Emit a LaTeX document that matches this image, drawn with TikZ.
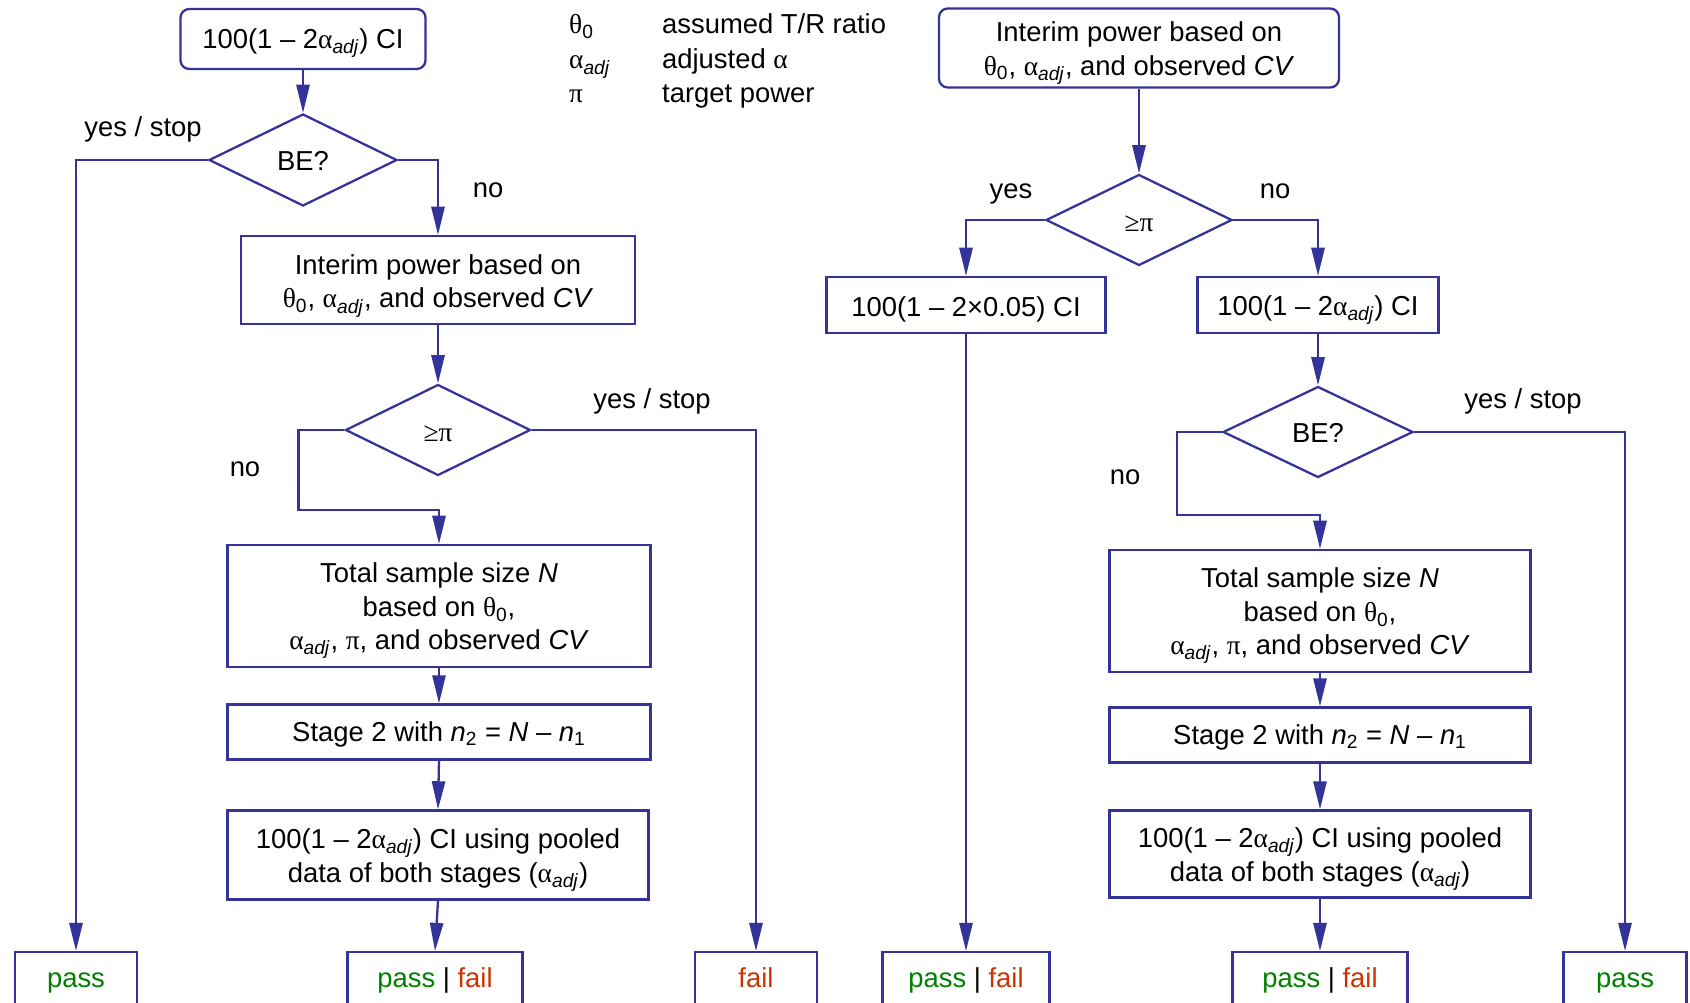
\documentclass[tikz,border=0pt]{standalone}
\usepackage{fontspec}
\setmainfont{Liberation Sans}
\newfontfamily\symfont{Liberation Serif}
\usetikzlibrary{shapes.geometric,arrows.meta}
\newlength\unitpx
\setlength\unitpx{0.02cm}
\definecolor{flowblue}{RGB}{51,51,153}
\definecolor{passgreen}{RGB}{0,128,0}
\definecolor{failred}{RGB}{204,51,0}
\newcommand{\aadj}{{\symfont α}\textsubscript{\textit{adj}}}
\newcommand{\thnull}{{\symfont θ}\textsubscript{0}}
\newcommand{\ppi}{{\symfont π}}
\newcommand{\passtxt}{\textcolor{passgreen}{pass}}
\newcommand{\failtxt}{\textcolor{failred}{fail}}
\newcommand{\bxs}[1][17pt]{\rule{0pt}{#1}}

\begin{document}
\begin{tikzpicture}[x=0.02cm, y=-0.02cm, line width=1.3pt, every node/.style={font=\fontsize{15.6}{19}\selectfont},
  box/.style={draw=flowblue, align=center, inner sep=0pt},
  rbox/.style={box, rounded corners=5pt},
  test/.style={draw=flowblue, diamond, inner sep=0pt},
  endbox/.style={box, anchor=north, minimum height=62\unitpx, text height=0.75em, text depth=0.25em},
  txt/.style={inner sep=0pt, anchor=base west},
  arr/.style={draw=flowblue, -{Triangle[length=16pt, width=7.5pt]}}]
  \useasboundingbox (0,0) rectangle (1690,1003);
  \node[txt] (lgth) at (568,34) {\thnull};
  \node[txt] (lgthtxt) at (661,34) {assumed T/R ratio};
  \node[txt] (lgal) at (568,69) {\aadj};
  \node[txt] (lgaltxt) at (661,69) {adjusted {\symfont α}};
  \node[txt] (lgpi) at (568,103) {\ppi};
  \node[txt] (lgpitxt) at (661,103) {target power};

  \node[rbox, minimum width=245\unitpx, minimum height=60\unitpx] (ci1) at (303,39) {\bxs[16.3pt]100(1 -- 2\aadj) CI};
  \node[test, minimum width=188\unitpx, minimum height=92\unitpx] (be1) at (303,160) {\bxs[12.5pt]BE?};
  \node[box, minimum width=394\unitpx, minimum height=88\unitpx] (ip1) at (438,280) {\bxs[18pt]Interim power based on\\ \thnull, \aadj, and observed \textit{CV}};
  \node[test, minimum width=185\unitpx, minimum height=91\unitpx] (pw1) at (438,430) {\bxs[12.8pt]{\symfont ≥π}};
  \node[box, minimum width=423\unitpx, minimum height=122\unitpx] (ss1) at (439,606) {\bxs Total sample size \textit{N}\\ based on \thnull,\\ \aadj, \ppi, and observed \textit{CV}};
  \node[box, minimum width=423\unitpx, minimum height=55\unitpx] (st1) at (439,732) {\bxs[13.5pt]Stage 2 with \textit{n}\textsubscript{2} = \textit{N} -- \textit{n}\textsubscript{1}};
  \node[box, minimum width=421\unitpx, minimum height=89\unitpx] (po1) at (438,855) {\bxs 100(1 -- 2\aadj) CI using pooled\\ data of both stages (\aadj)};
  \node[endbox, minimum width=122\unitpx] (ok1) at (76,951) {\passtxt};
  \node[endbox, minimum width=175\unitpx] (pf1) at (435,951) {\passtxt{} | \failtxt};
  \node[endbox, minimum width=122\unitpx] (fl1) at (756,951) {\failtxt};
  \node (ys1) at (143,129) {yes / stop};
  \node (no1) at (488,190) {no};
  \node (ys2) at (652,401) {yes / stop};
  \node (no2) at (245,469) {no};

  \draw[arr] (ci1.south) -- (be1.north);
  \draw[arr] (be1.west) -| (ok1.north);
  \draw[arr] (be1.east) -| (ip1.north);
  \draw[arr] (ip1.south) -- (pw1.north);
  \draw[arr] (pw1.east) -| (fl1.north);
  \draw[arr] (pw1.west) -- ++(-46,0) -- ++(0,80) -| (ss1.north);
  \draw[arr] (ss1.south) -- (st1.north);
  \draw[arr] (st1.south) -- (po1.north);
  \draw[arr] (po1.south) -- (pf1.north);

  \node[rbox, minimum width=400\unitpx, minimum height=79\unitpx] (ip2) at (1139,48) {\bxs Interim power based on\\ \thnull, \aadj, and observed \textit{CV}};
  \node[test, minimum width=186\unitpx, minimum height=91\unitpx] (pw2) at (1139,220) {\bxs[12.8pt]{\symfont ≥π}};
  \node[box, minimum width=279\unitpx, minimum height=56\unitpx] (ci2) at (966,305) {\bxs[16.3pt]100(1 -- 2×0.05) CI};
  \node[box, minimum width=241\unitpx, minimum height=56\unitpx] (ci3) at (1318,305) {\bxs 100(1 -- 2\aadj) CI};
  \node[test, minimum width=190\unitpx, minimum height=91\unitpx] (be2) at (1318,432) {\bxs[12.5pt]BE?};
  \node[box, minimum width=421\unitpx, minimum height=122\unitpx] (ss2) at (1320,611) {\bxs Total sample size \textit{N}\\ based on \thnull,\\ \aadj, \ppi, and observed \textit{CV}};
  \node[box, minimum width=421\unitpx, minimum height=55\unitpx] (st2) at (1320,735) {\bxs[13.5pt]Stage 2 with \textit{n}\textsubscript{2} = \textit{N} -- \textit{n}\textsubscript{1}};
  \node[box, minimum width=421\unitpx, minimum height=87\unitpx] (po2) at (1320,854) {\bxs 100(1 -- 2\aadj) CI using pooled\\ data of both stages (\aadj)};
  \node[endbox, minimum width=167\unitpx] (pf2) at (966,951) {\passtxt{} | \failtxt};
  \node[endbox, minimum width=175\unitpx] (pf3) at (1320,951) {\passtxt{} | \failtxt};
  \node[endbox, minimum width=123\unitpx] (ok2) at (1625,951) {\passtxt};
  \node (ys3) at (1011,194) {yes};
  \node (no3) at (1275,191) {no};
  \node (ys4) at (1523,401) {yes / stop};
  \node (no4) at (1125,477) {no};

  \draw[arr] (ip2.south) -- (pw2.north);
  \draw[arr] (pw2.west) -| (ci2.north);
  \draw[arr] (pw2.east) -| (ci3.north);
  \draw[arr] (ci2.south) -- (pf2.north);
  \draw[arr] (ci3.south) -- (be2.north);
  \draw[arr] (be2.east) -| (ok2.north);
  \draw[arr] (be2.west) -- ++(-45,0) -- ++(0,83) -| (ss2.north);
  \draw[arr] (ss2.south) -- (st2.north);
  \draw[arr] (st2.south) -- (po2.north);
  \draw[arr] (po2.south) -- (pf3.north);
\end{tikzpicture}
\end{document}
